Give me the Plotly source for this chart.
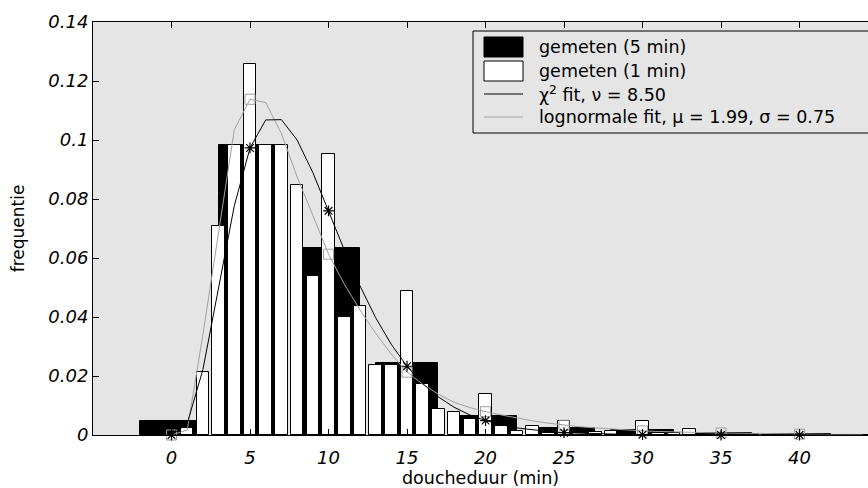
import plotly.graph_objects as go

# ---------------- data ----------------
x5 = [0, 5, 10, 15, 20, 25, 30, 35, 40]
freq5 = [0.0048, 0.0983, 0.0635, 0.0245, 0.0063, 0.0024, 0.0016, 0.0007, 0.0004]

x1 = list(range(0, 45))
freq1 = [0.0, 0.0025, 0.0214, 0.0710, 0.0983, 0.1257, 0.0983, 0.0983, 0.0846, 0.0540,
         0.0952, 0.0401, 0.0437, 0.0237, 0.0237, 0.0488, 0.0173, 0.0088, 0.0077, 0.0054,
         0.0139, 0.0031, 0.0014, 0.0032, 0.0008, 0.0049, 0.0006, 0.0011, 0.0015, 0.0004,
         0.0049, 0.0006, 0.0008, 0.0019, 0.0003, 0.0003, 0.0, 0.0002, 0.0, 0.0,
         0.0003, 0.0, 0.0, 0.0, 0.0]

x_fit = list(range(0, 45))
chi2_fit = [0.0, 0.00385, 0.0222, 0.0503, 0.0777, 0.0973, 0.1068, 0.1069, 0.1000, 0.0890,
            0.0760, 0.0628, 0.0506, 0.0398, 0.0307, 0.0233, 0.0174, 0.0129, 0.0094, 0.0068,
            0.0049, 0.0035, 0.0024, 0.0017, 0.0012, 0.0008, 0.0006, 0.0004, 0.0003, 0.0002,
            0.0001, 0.0001, 0.0001, 0.0, 0.0, 0.0, 0.0, 0.0, 0.0, 0.0,
            0.0, 0.0, 0.0, 0.0, 0.0]
logn_fit = [0.0, 0.0017, 0.0340, 0.0690, 0.1035, 0.1138, 0.1127, 0.1022, 0.0875, 0.0745,
            0.0613, 0.0512, 0.0424, 0.0345, 0.0274, 0.0213, 0.0172, 0.0138, 0.0111, 0.0093,
            0.0079, 0.0068, 0.0057, 0.0048, 0.0040, 0.0033, 0.0028, 0.0024, 0.0020, 0.0017,
            0.0014, 0.0012, 0.0010, 0.0009, 0.0008, 0.0007, 0.0006, 0.0005, 0.0004, 0.0004,
            0.0003, 0.0003, 0.0002, 0.0002, 0.0002]

x_marks = [0, 5, 10, 15, 20, 25, 30, 35, 40]

x_ticks = [0, 5, 10, 15, 20, 25, 30, 35, 40]
y_ticks = [0, 0.02, 0.04, 0.06, 0.08, 0.1, 0.12, 0.14]
y_ticktext = ["0", "0.02", "0.04", "0.06", "0.08", "0.1", "0.12", "0.14"]

legend_labels = ["gemeten (5 min)", "gemeten (1 min)",
                 "χ<sup>2</sup> fit, ν = 8.50",
                 "lognormale fit, μ = 1.99, σ = 0.75"]

# ---------------- styles ----------------
FONT = "DejaVu Sans"
BG = "#e5e5e5"
GRAY = "#a0a0a0"

chi2_marks = [chi2_fit[x_fit.index(v)] for v in x_marks]
logn_marks = [logn_fit[x_fit.index(v)] for v in x_marks]

fig = go.Figure()

fig.add_trace(go.Bar(x=x5, y=freq5, width=4, marker=dict(color="black", line=dict(color="black", width=1)),
                     showlegend=False))
fig.add_trace(go.Bar(x=x1, y=freq1, width=0.8, marker=dict(color="white", line=dict(color="black", width=1)),
                     showlegend=False))
fig.add_trace(go.Scatter(x=x_fit, y=logn_fit, mode="lines", line=dict(color=GRAY, width=1),
                         showlegend=False, cliponaxis=False))
fig.add_trace(go.Scatter(x=x_marks, y=logn_marks, mode="markers",
                         marker=dict(symbol="square-open", size=10, color=GRAY, line=dict(color=GRAY, width=1)),
                         showlegend=False, cliponaxis=False))
fig.add_trace(go.Scatter(x=x_fit, y=chi2_fit, mode="lines", line=dict(color="black", width=1),
                         showlegend=False, cliponaxis=False))
fig.add_trace(go.Scatter(x=x_marks, y=chi2_marks, mode="markers",
                         marker=dict(symbol="asterisk-open", size=9, color="black", line=dict(color="black", width=1.2)),
                         showlegend=False, cliponaxis=False))

# ---------------- manual legend (pixel-space overlay axes) ----------------
L_X0, L_X1, L_Y0, L_Y1 = 473, 880, 31, 133
key_x0, key_x1, key_xm = 484, 523, 504
row_y = [47, 71, 94, 117]

fig.add_shape(type="rect", xref="x2", yref="y2", x0=L_X0, x1=L_X1, y0=L_Y0, y1=L_Y1,
              fillcolor=BG, line=dict(color="black", width=1), layer="above")
fig.add_shape(type="rect", xref="x2", yref="y2", x0=key_x0, x1=key_x1, y0=row_y[0] - 10, y1=row_y[0] + 10,
              fillcolor="black", line=dict(color="black", width=1), layer="above")
fig.add_shape(type="rect", xref="x2", yref="y2", x0=key_x0, x1=key_x1, y0=row_y[1] - 10, y1=row_y[1] + 10,
              fillcolor="white", line=dict(color="black", width=1), layer="above")
fig.add_shape(type="line", xref="x2", yref="y2", x0=key_x0, x1=key_x1, y0=row_y[2], y1=row_y[2],
              line=dict(color="black", width=1), layer="above")
fig.add_shape(type="line", xref="x2", yref="y2", x0=key_x0, x1=key_x1, y0=row_y[3], y1=row_y[3],
              line=dict(color=GRAY, width=1), layer="above")
fig.add_trace(go.Scatter(x=[key_xm], y=[row_y[2]], xaxis="x2", yaxis="y2", mode="markers",
                         marker=dict(symbol="asterisk-open", size=9, color="black", line=dict(color="black", width=1.2)),
                         showlegend=False, hoverinfo="skip"))
fig.add_trace(go.Scatter(x=[key_xm], y=[row_y[3]], xaxis="x2", yaxis="y2", mode="markers",
                         marker=dict(symbol="square-open", size=10, color=GRAY, line=dict(color=GRAY, width=1)),
                         showlegend=False, hoverinfo="skip"))
for lab, yy in zip(legend_labels, row_y):
    fig.add_annotation(x=537, y=yy, xref="x2", yref="y2", text=lab, showarrow=False,
                       xanchor="left", yanchor="middle", font=dict(family=FONT, size=17.5, color="black"))

# axis titles
fig.add_annotation(x=0.5, y=-0.103, xref="paper", yref="paper", text="doucheduur (min)", showarrow=False,
                   xanchor="center", yanchor="middle", font=dict(family=FONT, size=17.5, color="black"))
fig.add_annotation(x=-0.097, y=0.5, xref="paper", yref="paper", text="frequentie", showarrow=False,
                   textangle=-90, xanchor="center", yanchor="middle", font=dict(family=FONT, size=17, color="black"))

fig.update_layout(
    width=868, height=488,
    margin=dict(l=93, r=0, t=22, b=53),
    paper_bgcolor="white", plot_bgcolor=BG,
    barmode="overlay", bargap=0,
    font=dict(family=FONT, color="black"),
    xaxis=dict(range=[-5, 44.36], tickvals=x_ticks, ticks="inside", ticklen=6, tickcolor="black",
               showline=True, linecolor="black", linewidth=1, mirror="ticks", showgrid=False, zeroline=False,
               tickfont=dict(family=FONT, size=18, style="italic"), ticklabelstandoff=6),
    yaxis=dict(range=[0, 0.14], tickvals=y_ticks, ticktext=y_ticktext, ticks="inside", ticklen=6,
               tickcolor="black", showline=True, linecolor="black", linewidth=1, showgrid=False, zeroline=False,
               tickfont=dict(family=FONT, size=18, style="italic")),
    xaxis2=dict(overlaying="x", range=[93, 868], showticklabels=False, showgrid=False, zeroline=False,
                showline=False, ticks="", fixedrange=True),
    yaxis2=dict(overlaying="y", range=[435, 22], showticklabels=False, showgrid=False, zeroline=False,
                showline=False, ticks="", fixedrange=True),
)

fig.write_html("out.html")
